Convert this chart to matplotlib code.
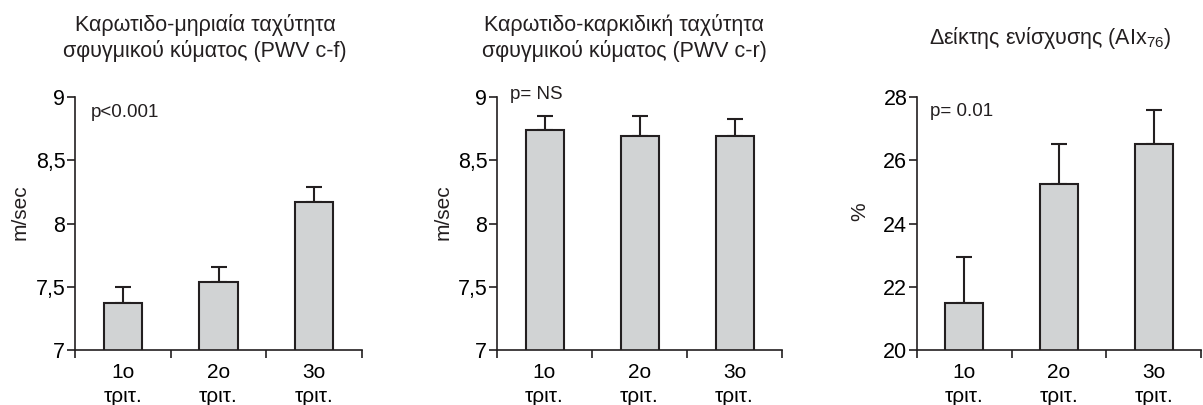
import numpy as np
import matplotlib
matplotlib.use("Agg")
import matplotlib.pyplot as plt

plt.rcParams['font.family'] = ['Liberation Sans', 'DejaVu Sans']
plt.rcParams['mathtext.fontset'] = 'custom'
plt.rcParams['mathtext.rm'] = 'Liberation Sans'
plt.rcParams['mathtext.default'] = 'regular'

# data
groups = ["1ο\nτριτ.", "2ο\nτριτ.", "3ο\nτριτ."]

pwv_cf = [7.37, 7.54, 8.17]
pwv_cf_err = [0.13, 0.12, 0.12]

pwv_cr = [8.74, 8.69, 8.69]
pwv_cr_err = [0.11, 0.16, 0.14]

aix = [21.5, 25.25, 26.5]
aix_err = [1.45, 1.27, 1.1]

titles = [
    "Καρωτιδο-μηριαία ταχύτητα\nσφυγμικού κύματος (PWV c-f)",
    "Καρωτιδο-καρκιδική ταχύτητα\nσφυγμικού κύματος (PWV c-r)",
    "Δείκτης ενίσχυσης (AIx$_{76}$)",
]
ylabels = ["m/sec", "m/sec", "%"]
pvals = ["p<0.001", "p= NS", "p= 0.01"]

yticks_pwv = [7, 7.5, 8, 8.5, 9]
yticklabels_pwv = ["7", "7,5", "8", "8,5", "9"]
yticks_aix = [20, 22, 24, 26, 28]
yticklabels_aix = ["20", "22", "24", "26", "28"]

W, H = 1203, 405
fig = plt.figure(figsize=(W / 100, H / 100), dpi=100)

# axes boxes in pixels: left, right
boxes = [(75, 362), (497, 782), (917, 1201)]
top_px, bot_px = 97, 350

panels = [
    (pwv_cf, pwv_cf_err, (7, 9), yticks_pwv, yticklabels_pwv, (0.16, 8.88)),
    (pwv_cr, pwv_cr_err, (7, 9), yticks_pwv, yticklabels_pwv, (0.14, 9.02)),
    (aix, aix_err, (20, 28), yticks_aix, yticklabels_aix, (0.14, 27.53)),
]
title_x = [205, 624, 1050]
ylabel_x = [20, 443, 860]

bar_color = "#d1d3d4"
edge = "#231f20"

for i, (vals, errs, ylim, yt, ytl, ptxt) in enumerate(panels):
    l, r = boxes[i]
    ax = fig.add_axes([l / W, 1 - bot_px / H, (r - l) / W, (bot_px - top_px) / H])
    x = np.arange(len(vals)) + 0.5
    ax.errorbar(x, vals, yerr=[np.zeros(len(errs)), errs], fmt='none',
                ecolor=edge, elinewidth=1.5, capsize=6, capthick=1.5, zorder=1)
    ax.bar(x, vals, width=0.4, bottom=0, color=bar_color, edgecolor=edge,
           linewidth=1.5, zorder=2)
    ax.set_xlim(0, 3)
    ax.set_ylim(*ylim)
    ax.set_yticks(yt)
    ax.set_yticklabels(ytl, fontsize=15.5)
    ax.set_xticks([0, 1, 2, 3])
    ax.set_xticklabels([])
    ax.set_xticks(x, minor=True)
    ax.set_xticklabels(groups, minor=True, fontsize=15, linespacing=1.35)
    ax.tick_params(axis='x', which='minor', length=0, pad=9)
    ax.tick_params(axis='x', which='major', length=6, width=1.2, color=edge)
    ax.tick_params(axis='y', length=6, width=1.2, color=edge, pad=1)
    for s in ['top', 'right']:
        ax.spines[s].set_visible(False)
    for s in ['left', 'bottom']:
        ax.spines[s].set_linewidth(1.2)
        ax.spines[s].set_color(edge)
    ax.text(ptxt[0], ptxt[1], pvals[i], fontsize=13.5, va='center', ha='left',
            color=edge)
    fig.text(title_x[i] / W, 1 - 38 / H, titles[i], fontsize=15.5, ha='center',
             va='center', linespacing=1.25, color=edge)
    fig.text(ylabel_x[i] / W, 1 - 212 / H, ylabels[i], fontsize=15,
             rotation=90, ha='center', va='center', color=edge)

fig.savefig("out.png", dpi=100)
